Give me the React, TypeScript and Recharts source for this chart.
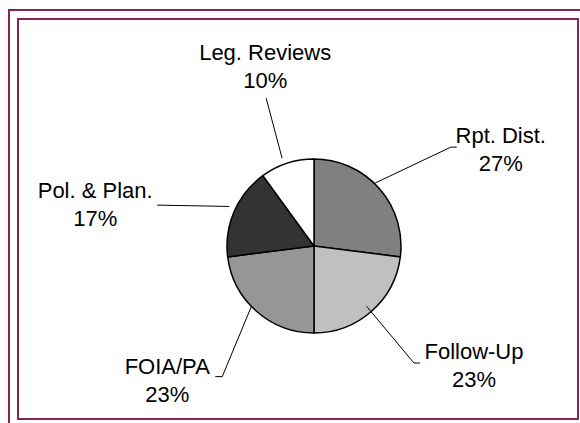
import React from "react";
import { PieChart, Pie, Cell } from "recharts";

// Workload split, read clockwise from 12 o'clock
const CATEGORIES = ["Rpt. Dist.", "Follow-Up", "FOIA/PA", "Pol. & Plan.", "Leg. Reviews"];
const SHARES = [27, 23, 23, 17, 10];

const FILLS = ["#808080", "#c0c0c0", "#969696", "#333333", "#ffffff"];
const FRAME = "#862453";
const FONT = "'Liberation Sans', Arial, sans-serif";

const WIDTH = 580;
const HEIGHT = 423;
const CX = 309;
const CY = 241;
const RADIUS = 87;

// Leader line end (clock angle in degrees, distance from centre), short tail, text block offset
const LABEL_LAYOUT = [
  { angle: 56.5, dist: 170, tail: 6, tx: 44, ty: 2 },
  { angle: 139.3, dist: 161, tail: 6, tx: 54, ty: 2 },
  { angle: 212.6, dist: 161, tail: -7, tx: -48, ty: 3 },
  { angle: 283.3, dist: 156, tail: 0, tx: -62, ty: -1 },
  { angle: 343.3, dist: 149, tail: 0, tx: -1, ty: -32 },
];

const data = CATEGORIES.map((name, i) => ({ name, value: SHARES[i] }));

const RAD = Math.PI / 180;

function SliceLabel(props: any) {
  const { midAngle, index, value, name } = props;
  const layout = LABEL_LAYOUT[index];
  const sx = CX + RADIUS * Math.cos(-midAngle * RAD);
  const sy = CY + RADIUS * Math.sin(-midAngle * RAD);
  const ex = CX + layout.dist * Math.sin(layout.angle * RAD);
  const ey = CY - layout.dist * Math.cos(layout.angle * RAD);
  const tx = ex + layout.tail + layout.tx;
  const ty = ey + layout.ty;
  return (
    <g>
      <polyline
        points={`${sx},${sy} ${ex},${ey} ${ex + layout.tail},${ey}`}
        fill="none"
        stroke="#000"
        strokeWidth={1}
      />
      <text
        x={tx}
        textAnchor="middle"
        fontFamily={FONT}
        fontSize={22}
        fill="#000"
      >
        <tspan x={tx} y={ty - 14 + 8}>{name}</tspan>
        <tspan x={tx} y={ty + 14 + 8}>{`${value}%`}</tspan>
      </text>
    </g>
  );
}

export default function App() {
  return (
    <div
      style={{
        position: "absolute",
        left: 0,
        top: 0,
        width: WIDTH,
        height: HEIGHT,
        overflow: "hidden",
        background: "#fff",
      }}
    >
      {/* outer frame runs off the page on the right and bottom */}
      <div
        style={{
          position: "absolute",
          left: 8,
          top: 9,
          width: 700,
          height: 600,
          borderLeft: `2px solid ${FRAME}`,
          borderTop: `2px solid ${FRAME}`,
        }}
      />
      <div
        style={{
          position: "absolute",
          left: 17,
          top: 18,
          width: 562,
          height: 402,
          boxSizing: "border-box",
          border: `2px solid ${FRAME}`,
        }}
      />
      <div style={{ position: "absolute", left: 0, top: 0 }}>
        <PieChart width={WIDTH} height={HEIGHT}>
          <Pie
            data={data}
            dataKey="value"
            nameKey="name"
            cx={CX}
            cy={CY}
            outerRadius={RADIUS}
            startAngle={90}
            endAngle={-270}
            stroke="#000"
            strokeWidth={1.5}
            label={SliceLabel}
            labelLine={false}
            isAnimationActive={false}
          >
            {data.map((d, i) => (
              <Cell key={d.name} fill={FILLS[i]} />
            ))}
          </Pie>
        </PieChart>
      </div>
    </div>
  );
}
